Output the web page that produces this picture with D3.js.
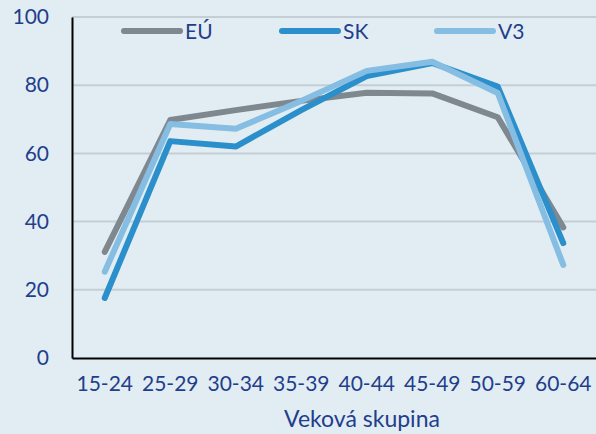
<!DOCTYPE html>
<html><head><meta charset="utf-8">
<script src="https://cdn.jsdelivr.net/npm/d3@7"></script>
<style>html,body{margin:0;padding:0;background:#e1edf2;}svg{display:block;}</style>
</head><body>
<script>
const categories = ["15-24","25-29","30-34","35-39","40-44","45-49","50-59","60-64"];
const euValues = [31.1, 69.8, 72.7, 75.4, 77.8, 77.6, 70.6, 38.3];
const skValues = [17.6, 63.6, 62.0, 72.7, 82.7, 86.5, 79.6, 33.7];
const v3Values = [25.3, 68.6, 67.2, 75.4, 84.2, 86.9, 77.7, 27.3];
const seriesNames = ["EÚ","SK","V3"];
const yTicks = [0,20,40,60,80,100];
const xTitle = "Veková skupina";

const W = 596, H = 434;
const m = {left:72, right:0, top:17, bottom:76};
const textColor = "#233d8c";
const colors = {"EÚ":"#80888f","SK":"#2a8fcb","V3":"#86bde3"};
const font = "Lato, 'Open Sans', sans-serif";

const svg = d3.select("body").append("svg").attr("width",W).attr("height",H);
svg.append("rect").attr("width",W).attr("height",H).attr("fill","#e1edf2");

const x = d3.scaleBand().domain(categories).range([m.left, W-m.right]);
const y = d3.scaleLinear().domain([0,100]).range([H-m.bottom, m.top]);

// gridlines
svg.append("g").selectAll("line").data(yTicks.filter(d=>d>0)).join("line")
  .attr("x1",m.left).attr("x2",W).attr("y1",d=>y(d)).attr("y2",d=>y(d))
  .attr("stroke","#c4cfd5").attr("stroke-width",2);

// y axis
const yAxis = svg.append("g").attr("transform",`translate(${m.left},0)`)
  .call(d3.axisLeft(y).tickValues(yTicks).tickSize(0).tickPadding(23));
yAxis.select(".domain").attr("stroke","#000").attr("stroke-width",2);
yAxis.selectAll("text").attr("fill",textColor).style("font-family",font).style("font-size","21px");

// x axis
const xAxis = svg.append("g").attr("transform",`translate(0,${y(0)})`)
  .call(d3.axisBottom(x).tickSize(0).tickPadding(18));
xAxis.select(".domain").attr("stroke","#000").attr("stroke-width",2);
xAxis.selectAll("text").attr("fill",textColor).style("font-family",font).style("font-size","21px");

svg.append("text").attr("x", 362).attr("y", 427).attr("text-anchor","middle")
  .attr("fill",textColor).style("font-family",font).style("font-size","23px").text(xTitle);

const series = [
  {name:"EÚ", values:euValues},
  {name:"SK", values:skValues},
  {name:"V3", values:v3Values}
];
const line = d3.line().x((d,i)=>x(categories[i])+x.bandwidth()/2).y(d=>y(d));
svg.append("g").selectAll("path").data(series).join("path")
  .attr("d",d=>line(d.values)).attr("fill","none")
  .attr("stroke",d=>colors[d.name]).attr("stroke-width",6)
  .attr("stroke-linecap","round").attr("stroke-linejoin","round");

// legend
const legX = [124, 282, 437];
const lg = svg.append("g").selectAll("g").data(seriesNames).join("g")
  .attr("transform",(d,i)=>`translate(${legX[i]},31)`);
lg.append("line").attr("x1",0).attr("x2",56).attr("y1",0).attr("y2",0)
  .attr("stroke",d=>colors[d]).attr("stroke-width",6).attr("stroke-linecap","round");
lg.append("text").attr("x",61).attr("y",7.5).attr("fill",textColor)
  .style("font-family",font).style("font-size","21px").text(d=>d);
</script>
</body></html>
